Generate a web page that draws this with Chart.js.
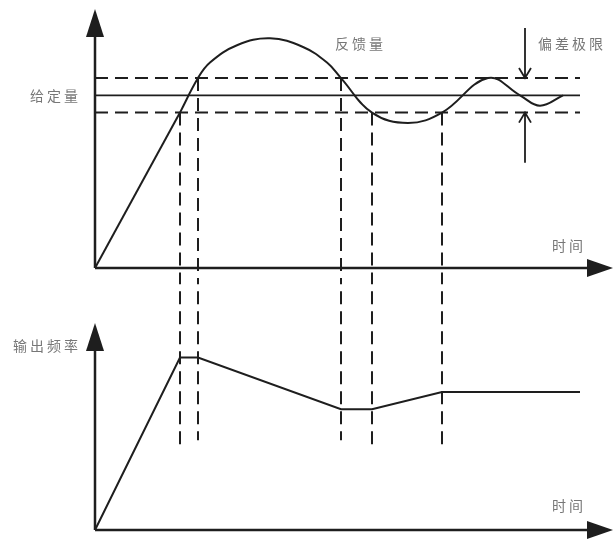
<!DOCTYPE html>
<html>
<head>
<meta charset="utf-8">
<script src="https://cdn.jsdelivr.net/npm/chart.js@4.4.1/dist/chart.umd.min.js"></script>
<style>
  body { margin: 0; background: #fff; }
  canvas { display: block; }
</style>
</head>
<body>
<canvas id="topChart" width="615" height="280"></canvas>
<canvas id="bottomChart" width="615" height="260"></canvas>
<script>
// time axis (arbitrary units), both panels share it
const timeMax = 52;
const lineEnd = 48.5;

// top panel: feedback vs setpoint
const setpoint = 1.0;
const bandHigh = 1.1;
const bandLow = 0.9;
const rampT = [0, 8.5];
const rampV = [0, 0.9];
const feedbackT = [8.5, 10.3, 11.5, 14.2, 17.5, 20.8, 23.2, 24.6, 27.7, 31.3, 34.7, 39.3, 42.5, 44.5, 46.8];
const feedbackV = [0.9, 1.1, 1.19, 1.29, 1.33, 1.28, 1.19, 1.1, 0.9, 0.84, 0.9, 1.1, 1.0, 0.94, 1.0];

// bottom panel: output frequency
const freqT = [0, 8.5, 10.3, 24.6, 27.7, 34.7, 48.5];
const freqV = [0, 1.0, 1.0, 0.7, 0.7, 0.8, 0.8];

// vertical guide lines where feedback leaves / enters the band
const guideT = [8.5, 10.3, 24.6, 27.7, 34.7];
const guideFrom = [0.9, 1.1, 1.1, 0.9, 0.9];
const guideTo = [0.49, 0.52, 0.52, 0.49, 0.49];

// deviation arrows
const devArrowT = 43;
const devArrowTop = 1.39;
const devArrowBottom = 0.61;

const ink = '#1e1e1e';
const textColor = '#777777';
const dash = [13, 7];

const pts = (xs, ys) => xs.map((x, i) => ({ x: x, y: ys[i] }));

function baseOptions(yMax, padding) {
  return {
    animation: false,
    responsive: false,
    layout: { padding: padding },
    elements: { point: { radius: 0 } },
    plugins: { legend: { display: false }, tooltip: { enabled: false } },
    scales: {
      x: { type: 'linear', min: 0, max: timeMax, display: false },
      y: { type: 'linear', min: 0, max: yMax, display: false }
    }
  };
}

function drawText(ctx, str, x, y, align) {
  ctx.save();
  ctx.font = '14px "Noto Sans CJK SC"';
  ctx.letterSpacing = '3px';
  ctx.fillStyle = textColor;
  ctx.textAlign = align;
  ctx.textBaseline = 'middle';
  ctx.fillText(str, x, y);
  ctx.restore();
}

// axis lines with filled arrow heads
function drawAxes(chart) {
  const ctx = chart.ctx;
  const xs = chart.scales.x, ys = chart.scales.y;
  const ox = xs.getPixelForValue(0), oy = ys.getPixelForValue(0);
  const top = chart.chartArea.top;
  const right = chart.width - 2;
  ctx.save();
  ctx.strokeStyle = ink;
  ctx.fillStyle = ink;
  ctx.lineWidth = 2.5;
  ctx.beginPath();
  ctx.moveTo(ox, oy);
  ctx.lineTo(ox, top + 25);
  ctx.moveTo(ox, oy);
  ctx.lineTo(right - 22, oy);
  ctx.stroke();
  ctx.beginPath();
  ctx.moveTo(ox, top);
  ctx.lineTo(ox - 9, top + 28);
  ctx.lineTo(ox + 9, top + 28);
  ctx.closePath();
  ctx.fill();
  ctx.beginPath();
  ctx.moveTo(right, oy);
  ctx.lineTo(right - 26, oy - 9);
  ctx.lineTo(right - 26, oy + 9);
  ctx.closePath();
  ctx.fill();
  ctx.restore();
}

function openArrow(ctx, x, y0, y1) {
  const dir = y1 > y0 ? 1 : -1;
  ctx.beginPath();
  ctx.moveTo(x, y0);
  ctx.lineTo(x, y1);
  ctx.moveTo(x - 6, y1 - dir * 10);
  ctx.lineTo(x, y1);
  ctx.lineTo(x + 6, y1 - dir * 10);
  ctx.stroke();
}

const topDecor = {
  id: 'topDecor',
  afterDatasetsDraw(chart) {
    drawAxes(chart);
    const ctx = chart.ctx;
    const xs = chart.scales.x, ys = chart.scales.y;
    ctx.save();
    ctx.strokeStyle = ink;
    ctx.lineWidth = 1.8;
    const ax = xs.getPixelForValue(devArrowT);
    openArrow(ctx, ax, ys.getPixelForValue(devArrowTop), ys.getPixelForValue(bandHigh));
    openArrow(ctx, ax, ys.getPixelForValue(devArrowBottom), ys.getPixelForValue(bandLow));
    ctx.restore();
    drawText(ctx, '给定量', xs.getPixelForValue(0) - 14, ys.getPixelForValue(setpoint), 'right');
    drawText(ctx, '反馈量', xs.getPixelForValue(24), ys.getPixelForValue(1.3), 'left');
    drawText(ctx, '偏差极限', xs.getPixelForValue(44.3), ys.getPixelForValue(1.3), 'left');
    drawText(ctx, '时间', xs.getPixelForValue(45.7), ys.getPixelForValue(0.13), 'left');
  }
};

const bottomDecor = {
  id: 'bottomDecor',
  afterDatasetsDraw(chart) {
    drawAxes(chart);
    const ctx = chart.ctx;
    const xs = chart.scales.x, ys = chart.scales.y;
    drawText(ctx, '输出频率', xs.getPixelForValue(0) - 14, ys.getPixelForValue(1.07), 'right');
    drawText(ctx, '时间', xs.getPixelForValue(45.7), ys.getPixelForValue(0.14), 'left');
  }
};

const solid = { borderColor: ink, borderWidth: 2, fill: false, clip: false };
const dashed = { borderColor: ink, borderWidth: 2, borderDash: dash, fill: false, clip: false };

const topDatasets = [
  Object.assign({ data: pts([0, lineEnd], [setpoint, setpoint]) }, solid, { borderWidth: 1.8 }),
  Object.assign({ data: pts([0, lineEnd], [bandHigh, bandHigh]) }, dashed),
  Object.assign({ data: pts([0, lineEnd], [bandLow, bandLow]) }, dashed),
  Object.assign({ data: pts(rampT, rampV), tension: 0 }, solid),
  Object.assign({ data: pts(feedbackT, feedbackV), tension: 0.4 }, solid)
].concat(guideT.map((t, i) =>
  Object.assign({ data: pts([t, t], [guideFrom[i], -0.1]) }, dashed)
));

new Chart(document.getElementById('topChart'), {
  type: 'line',
  data: { datasets: topDatasets },
  options: baseOptions(1.5, { left: 95, right: 0, top: 9, bottom: 12 }),
  plugins: [topDecor]
});

const bottomDatasets = [
  Object.assign({ data: pts(freqT, freqV), tension: 0 }, solid)
].concat(guideT.map((t, i) =>
  Object.assign({ data: pts([t, t], [1.5, guideTo[i]]) }, dashed)
));

new Chart(document.getElementById('bottomChart'), {
  type: 'line',
  data: { datasets: bottomDatasets },
  options: baseOptions(1.2, { left: 95, right: 0, top: 43, bottom: 10 }),
  plugins: [bottomDecor]
});
</script>
</body>
</html>
